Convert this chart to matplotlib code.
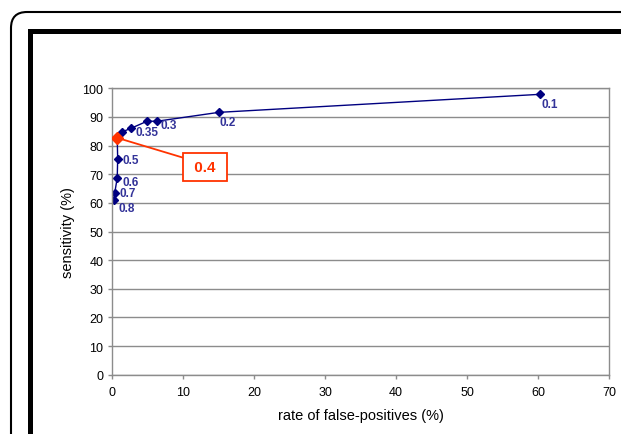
import numpy as np
import matplotlib
matplotlib.use('Agg')
import matplotlib.pyplot as plt
from matplotlib.patches import FancyBboxPatch, Rectangle

plt.rcParams['font.family'] = ['Liberation Sans', 'DejaVu Sans']

# ROC-like curve: false-positive rate vs sensitivity, thresholds as labels
fp_rate = [0.25, 0.35, 0.7, 0.76, 0.7, 1.4, 2.6, 4.9, 6.3, 15.0, 60.3]
sensitivity = [61.0, 63.5, 68.8, 75.3, 82.7, 84.8, 86.0, 88.5, 88.5, 91.6, 97.9]
thresholds = ['0.8', '0.7', '0.6', '0.5', '0.4', '', '0.35', '', '0.3', '0.2', '0.1']
# label offsets in pixels (dx, dy) relative to the point
offsets_px = {'0.8': (4, -8), '0.7': (5, 0), '0.6': (5, -4), '0.5': (5, -1),
              '0.35': (5, -4), '0.3': (4, -4), '0.2': (1, -10), '0.1': (1, -10)}
highlight = '0.4'

x_ticks = np.arange(0, 71, 10)
y_ticks = np.arange(0, 101, 10)

navy = '#000080'
lbl_col = '#333399'
orange = '#ff3300'

fig = plt.figure(figsize=(6.21, 4.35), dpi=100)

# outer rounded frame and inner thick frame (cropped screenshot look)
outer = FancyBboxPatch((0.11, -1.0), 8.0, 5.22, boxstyle='round,pad=0,rounding_size=0.16',
                       transform=fig.dpi_scale_trans, fill=False, lw=1.5, ec='black')
inner = Rectangle((0.295, -1.0), 8.0, 5.025, transform=fig.dpi_scale_trans,
                  fill=False, lw=3.6, ec='black')
fig.patches.extend([outer, inner])

ax = fig.add_axes([0.1808, 0.1363, 0.7999, 0.6584])
ax.set_xlim(0, 70)
ax.set_ylim(0, 100)
ax.set_xticks(x_ticks)
ax.set_yticks(y_ticks)
ax.grid(axis='y', color='#8c8c8c', lw=1.0)
ax.set_axisbelow(True)
for s in ax.spines.values():
    s.set_color('#8c8c8c')
    s.set_linewidth(1.0)
ax.tick_params(colors='#8c8c8c', length=3, width=1.0, labelcolor='black', labelsize=9)
ax.tick_params(axis='x', pad=5)

ax.plot(fp_rate, sensitivity, color=navy, lw=1.0, marker='D', ms=4.5, mfc=navy, mec=navy)

for x, y, t in zip(fp_rate, sensitivity, thresholds):
    if t == highlight:
        ax.plot(x, y, marker='D', ms=6.5, color=orange, zorder=5)
        ax.annotate(' 0.4 ', xy=(x, y), xytext=(13.06, 72.6), ha='center', va='center',
                    fontsize=11, fontweight='bold', color=orange,
                    bbox=dict(boxstyle='square,pad=0.45', fc='white', ec=orange, lw=1.3),
                    arrowprops=dict(arrowstyle='-', color=orange, lw=1.3, relpos=(0, 1),
                                    shrinkA=0, shrinkB=0))
    elif t:
        dx, dy = offsets_px[t]
        ax.annotate(t, xy=(x, y), xytext=(dx * 0.72, dy * 0.72), textcoords='offset points',
                    ha='left', va='center', fontsize=8.5, fontweight='bold', color=lbl_col)

ax.set_xlabel('rate of false-positives (%)', fontsize=10.5, labelpad=7)
ax.set_ylabel('sensitivity (%)', fontsize=10.5, labelpad=5)

fig.savefig('out.png', dpi=100)
